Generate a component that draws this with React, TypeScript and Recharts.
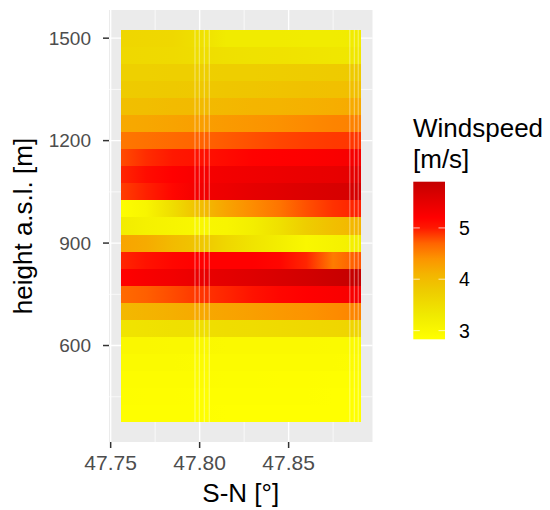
import React from 'react';
import { ComposedChart, XAxis, YAxis, CartesianGrid, ReferenceArea, ReferenceLine } from 'recharts';

// Latitude (S-N, degrees) of the raster columns
const lat = [47.7558, 47.77, 47.785, 47.8, 47.815, 47.83, 47.845, 47.86, 47.875, 47.8904];
// Height bands (m a.s.l.), top to bottom
const heights = [1500, 1450, 1400, 1350, 1300, 1250, 1200, 1150, 1100, 1050, 1000, 950, 900, 850, 800, 750, 700, 650, 600, 550, 500, 450, 400];

// Wind speed (m/s) per height band, one value per latitude column
const ws1500 = [3.62, 3.6, 3.58, 3.45, 3.28, 3.27, 3.27, 3.26, 3.26, 3.28];
const ws1450 = [3.58, 3.57, 3.55, 3.5, 3.45, 3.43, 3.42, 3.4, 3.36, 3.35];
const ws1400 = [3.7, 3.7, 3.72, 3.72, 3.73, 3.74, 3.75, 3.77, 3.78, 3.8];
const ws1350 = [3.78, 3.8, 3.82, 3.83, 3.85, 3.87, 3.9, 3.92, 3.93, 3.95];
const ws1300 = [3.95, 3.97, 4.0, 4.02, 4.05, 4.08, 4.1, 4.13, 4.16, 4.2];
const ws1250 = [4.2, 4.22, 4.26, 4.3, 4.34, 4.38, 4.42, 4.46, 4.5, 4.52];
const ws1200 = [4.58, 4.62, 4.66, 4.7, 4.74, 4.78, 4.82, 4.85, 4.87, 4.88];
const ws1150 = [4.8, 4.92, 5.0, 5.05, 5.12, 5.18, 5.2, 5.22, 5.26, 5.32];
const ws1100 = [4.95, 5.1, 5.2, 5.3, 5.35, 5.38, 5.42, 5.45, 5.48, 5.52];
const ws1050 = [4.85, 4.97, 5.15, 5.35, 5.42, 5.5, 5.56, 5.62, 5.67, 5.7];
const ws1000 = [2.88, 3.05, 3.5, 3.95, 4.25, 4.45, 4.6, 4.78, 4.9, 4.97];
const ws950 = [3.25, 3.15, 3.08, 3.02, 3.05, 3.2, 3.45, 3.75, 3.95, 4.08];
const ws900 = [4.25, 4.18, 4.0, 3.85, 3.6, 3.4, 3.2, 3.02, 3.1, 3.2];
const ws850 = [4.95, 5.05, 5.15, 5.2, 5.2, 5.2, 5.15, 4.95, 4.55, 4.75];
const ws800 = [5.2, 5.28, 5.36, 5.45, 5.52, 5.6, 5.66, 5.74, 5.82, 5.9];
const ws750 = [4.66, 4.72, 4.8, 4.88, 4.95, 5.05, 5.15, 5.2, 5.25, 5.3];
const ws700 = [4.05, 4.1, 4.15, 4.2, 4.25, 4.3, 4.35, 4.4, 4.45, 4.5];
const ws650 = [3.4, 3.42, 3.45, 3.47, 3.5, 3.52, 3.55, 3.58, 3.62, 3.65];
const ws600 = [3.0, 3.0, 2.98, 2.98, 2.97, 2.97, 2.96, 2.96, 2.95, 2.95];
const ws550 = [2.95, 2.94, 2.94, 2.93, 2.93, 2.92, 2.92, 2.91, 2.91, 2.9];
const ws500 = [2.9, 2.9, 2.89, 2.89, 2.88, 2.88, 2.87, 2.87, 2.86, 2.86];
const ws450 = [2.88, 2.87, 2.87, 2.86, 2.86, 2.85, 2.85, 2.85, 2.84, 2.84];
const ws400 = [2.86, 2.86, 2.85, 2.85, 2.84, 2.84, 2.84, 2.83, 2.83, 2.83];

const rows = [ws1500, ws1450, ws1400, ws1350, ws1300, ws1250, ws1200, ws1150, ws1100, ws1050, ws1000, ws950, ws900, ws850, ws800, ws750, ws700, ws650, ws600, ws550, ws500, ws450, ws400];

// Thin gaps between raster tiles
const gapLat = [47.7974, 47.7998, 47.8026, 47.8054, 47.8844, 47.8869, 47.8891];

// Axis ticks
const xTicks = [47.75, 47.8, 47.85];
const xMinor = [47.775, 47.825, 47.875];
const yTicks = [600, 900, 1200, 1500];
const yMinor = [450, 750, 1050, 1350];
const legendTicks = [3, 4, 5];

// Colour scale
const scaleValues = [2.83, 3.3, 3.8, 4.1, 4.4, 4.7, 5.0, 5.2, 5.5, 5.9];
const scaleColours = ['#FFFF00', '#F0EA00', '#EECA00', '#F4B400', '#FC9400', '#FF6400', '#FF1800', '#FF0000', '#E60000', '#C40000'];

function hexToRgb(h: string) {
  const n = parseInt(h.slice(1), 16);
  return [(n >> 16) & 255, (n >> 8) & 255, n & 255];
}
function colour(v: number) {
  if (v <= scaleValues[0]) return scaleColours[0];
  const last = scaleValues.length - 1;
  if (v >= scaleValues[last]) return scaleColours[last];
  let i = 0;
  while (v > scaleValues[i + 1]) i++;
  const t = (v - scaleValues[i]) / (scaleValues[i + 1] - scaleValues[i]);
  const a = hexToRgb(scaleColours[i]);
  const b = hexToRgb(scaleColours[i + 1]);
  const c = a.map((x, k) => Math.round(x + (b[k] - x) * t));
  return `rgb(${c[0]},${c[1]},${c[2]})`;
}

const FONT = '"Liberation Sans", Arial, Helvetica, sans-serif';

const half = (heights[0] - heights[1]) / 2;
const latMin = lat[0];
const latMax = lat[lat.length - 1];
const hMin = heights[heights.length - 1] - half;
const hMax = heights[0] + half;
const ex = (latMax - latMin) * 0.05;
const ey = (hMax - hMin) * 0.05;

const allVals = rows.flat();
const vMin = Math.min(...allVals);
const vMax = Math.max(...allVals);

const CrispRect = (p: any) => (
  <rect x={p.x} y={p.y} width={p.width} height={p.height} fill={p.fill} shapeRendering="crispEdges" />
);

const W = 550;
const H = 510;
const PLOT_LEFT = 109;
const PLOT_RIGHT = 372.5;
const PLOT_TOP = 10;
const PLOT_BOTTOM = 442;

// legend geometry
const BAR_X = 413.3;
const BAR_Y = 181.7;
const BAR_W = 31.7;
const BAR_H = 157.6;
const legY = (v: number) => BAR_Y + BAR_H - ((v - vMin) / (vMax - vMin)) * BAR_H;

export default function App() {
  return (
    <div style={{ position: 'absolute', left: 0, top: 0, width: W, height: H, background: '#fff' }}>
      <ComposedChart
        width={W}
        height={H}
        margin={{ top: PLOT_TOP, right: W - PLOT_RIGHT, bottom: 0, left: 0 }}
      >
        <defs>
          {rows.map((row, i) => (
            <linearGradient key={i} id={`band-${i}`} x1="0" y1="0" x2="1" y2="0">
              {row.map((v, j) => (
                <stop key={j} offset={(lat[j] - latMin) / (latMax - latMin)} stopColor={colour(v)} />
              ))}
            </linearGradient>
          ))}
        </defs>
        <CartesianGrid
          fill="#EBEBEB"
          stroke="#FFFFFF"
          strokeWidth={0.7}
          verticalValues={xMinor}
          horizontalValues={yMinor}
        />
        <CartesianGrid
          stroke="#FFFFFF"
          strokeWidth={1.4}
          verticalValues={xTicks}
          horizontalValues={yTicks}
        />
        <XAxis
          type="number"
          dataKey="lat"
          domain={[latMin - ex, latMax + ex]}
          ticks={xTicks}
          allowDataOverflow
          tickFormatter={(v: number) => v.toFixed(2)}
          axisLine={false}
          tickLine={{ stroke: '#333333', strokeWidth: 1.5 }}
          tickSize={6}
          tickMargin={7}
          height={H - PLOT_BOTTOM}
          tick={{ fill: '#4D4D4D', fontSize: 21, fontFamily: FONT }}
        />
        <YAxis
          type="number"
          dataKey="h"
          domain={[hMin - ey, hMax + ey]}
          ticks={yTicks}
          allowDataOverflow
          axisLine={false}
          tickLine={{ stroke: '#333333', strokeWidth: 1.5 }}
          tickSize={6}
          tickMargin={12}
          width={PLOT_LEFT}
          tick={{ fill: '#4D4D4D', fontSize: 19, fontFamily: FONT }}
        />
        {rows.map((row, i) => (
          <ReferenceArea
            key={`a${i}`}
            x1={latMin}
            x2={latMax}
            y1={heights[i] - half}
            y2={heights[i] + half}
            fill={`url(#band-${i})`}
            fillOpacity={1}
            stroke="none"
            shape={CrispRect}
          />
        ))}
        {gapLat.map((g, i) => (
          <ReferenceLine
            key={`g${i}`}
            segment={[{ x: g, y: hMin }, { x: g, y: hMax }]}
            stroke="#FFFFFF"
            strokeOpacity={0.45}
            strokeWidth={1}
          />
        ))}
      </ComposedChart>
      <svg
        width={W}
        height={H}
        style={{ position: 'absolute', left: 0, top: 0, pointerEvents: 'none' }}
        fontFamily={FONT}
      >
        <defs>
          <linearGradient id="legend-grad" x1="0" y1="1" x2="0" y2="0">
            {scaleValues.map((v, i) => (
              <stop key={i} offset={Math.max(0, Math.min(1, (v - vMin) / (vMax - vMin)))} stopColor={scaleColours[i]} />
            ))}
          </linearGradient>
        </defs>
        <text x={(PLOT_LEFT + PLOT_RIGHT) / 2} y={501.5} textAnchor="middle" fontSize={26} fill="#000">
          S-N [°]
        </text>
        <text
          x={32}
          y={(PLOT_TOP + PLOT_BOTTOM) / 2}
          transform={`rotate(-90 32 ${(PLOT_TOP + PLOT_BOTTOM) / 2})`}
          textAnchor="middle"
          fontSize={26}
          fill="#000"
        >
          height a.s.l. [m]
        </text>
        <text x={413} y={136.5} fontSize={26} fill="#000">Windspeed</text>
        <text x={413} y={168} fontSize={26} fill="#000">[m/s]</text>
        <rect x={BAR_X} y={BAR_Y} width={BAR_W} height={BAR_H} fill="url(#legend-grad)" />
        {legendTicks.map((t) => (
          <g key={t}>
            <line x1={BAR_X} x2={BAR_X + 6.5} y1={legY(t)} y2={legY(t)} stroke="#FFFFFF" strokeOpacity={0.6} strokeWidth={1.2} />
            <line x1={BAR_X + BAR_W - 6.5} x2={BAR_X + BAR_W} y1={legY(t)} y2={legY(t)} stroke="#FFFFFF" strokeOpacity={0.6} strokeWidth={1.2} />
            <text x={459} y={legY(t)} dy="0.36em" fontSize={19.5} fill="#000">{t}</text>
          </g>
        ))}
      </svg>
    </div>
  );
}
